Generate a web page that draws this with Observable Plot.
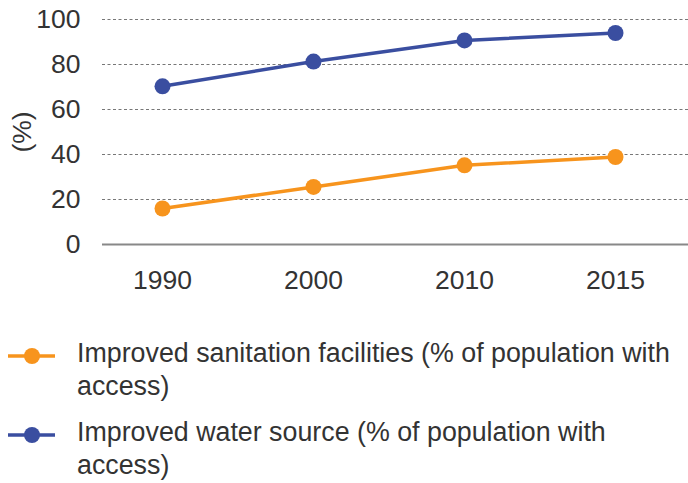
<!DOCTYPE html>
<html>
<head>
<meta charset="utf-8">
<script src="https://cdn.jsdelivr.net/npm/d3@7"></script>
<script src="https://cdn.jsdelivr.net/npm/@observablehq/plot@0.6"></script>
<style>
  html, body { margin: 0; padding: 0; background: #fff; }
  body { width: 688px; font-family: "Liberation Sans", Arial, sans-serif; color: #333; }
  #legend { margin-top: 37px; font-size: 26.8px; line-height: 33px; color: #333; }
  .item { display: flex; align-items: flex-start; margin-bottom: 13px; }
  .item svg { flex: none; width: 77px; height: 33px; }
  .item span { display: block; }
</style>
</head>
<body>
<div id="chart"></div>
<div id="legend"></div>
<script>
const years = ["1990", "2000", "2010", "2015"];
const sanitation = [16, 25.6, 35.2, 38.9];
const water = [70.3, 81.3, 90.7, 94];
const seriesNames = [
  "Improved sanitation facilities (% of population with access)",
  "Improved water source (% of population with access)"
];
const seriesLines = [
  ["Improved sanitation facilities (% of population with", "access)"],
  ["Improved water source (% of population with", "access)"]
];
const colors = ["#F7941D", "#3A4EA0"];
const yTicks = [0, 20, 40, 60, 80, 100];

const rows = [];
years.forEach((yr, i) => {
  rows.push({year: yr, value: sanitation[i], series: seriesNames[0]});
  rows.push({year: yr, value: water[i], series: seriesNames[1]});
});

const chart = Plot.plot({
  width: 688,
  height: 300,
  marginLeft: 102,
  marginRight: 0,
  marginTop: 19,
  marginBottom: 56,
  style: {fontFamily: '"Liberation Sans", Arial, sans-serif', fontSize: "26.5px", color: "#333", background: "#fff"},
  x: {type: "point", domain: years, padding: 0.4315, align: 0.45, label: null},
  y: {domain: [0, 100], ticks: yTicks, label: null},
  color: {domain: seriesNames, range: colors},
  marks: [
    Plot.ruleY(yTicks.filter(d => d > 0), {stroke: "#777", strokeWidth: 1, strokeDasharray: "3,2.5"}),
    Plot.ruleY([0], {stroke: "#888", strokeWidth: 2}),
    Plot.axisX({tickSize: 0, tickPadding: 26, fontSize: 26.5, fill: "#333"}),
    Plot.axisY({tickSize: 0, tickPadding: 22, fontSize: 26.5, fill: "#333", label: "(%)", labelAnchor: "center", labelArrow: "none", labelOffset: 90}),
    Plot.line(rows, {x: "year", y: "value", z: "series", stroke: "series", strokeWidth: 3.5}),
    Plot.dot(rows, {x: "year", y: "value", fill: "series", r: 8})
  ]
});
document.getElementById("chart").appendChild(chart);

const legend = d3.select("#legend");
seriesLines.forEach((lines, i) => {
  const item = legend.append("div").attr("class", "item");
  const sw = item.append("svg").attr("viewBox", "0 0 77 33");
  sw.append("line").attr("x1", 8).attr("x2", 55).attr("y1", 19).attr("y2", 19)
    .attr("stroke", colors[i]).attr("stroke-width", 3.5);
  sw.append("circle").attr("cx", 32).attr("cy", 19).attr("r", 8).attr("fill", colors[i]);
  const span = item.append("span");
  lines.forEach((t, j) => {
    if (j > 0) span.append("br");
    span.append(() => document.createTextNode(t));
  });
});
</script>
</body>
</html>
